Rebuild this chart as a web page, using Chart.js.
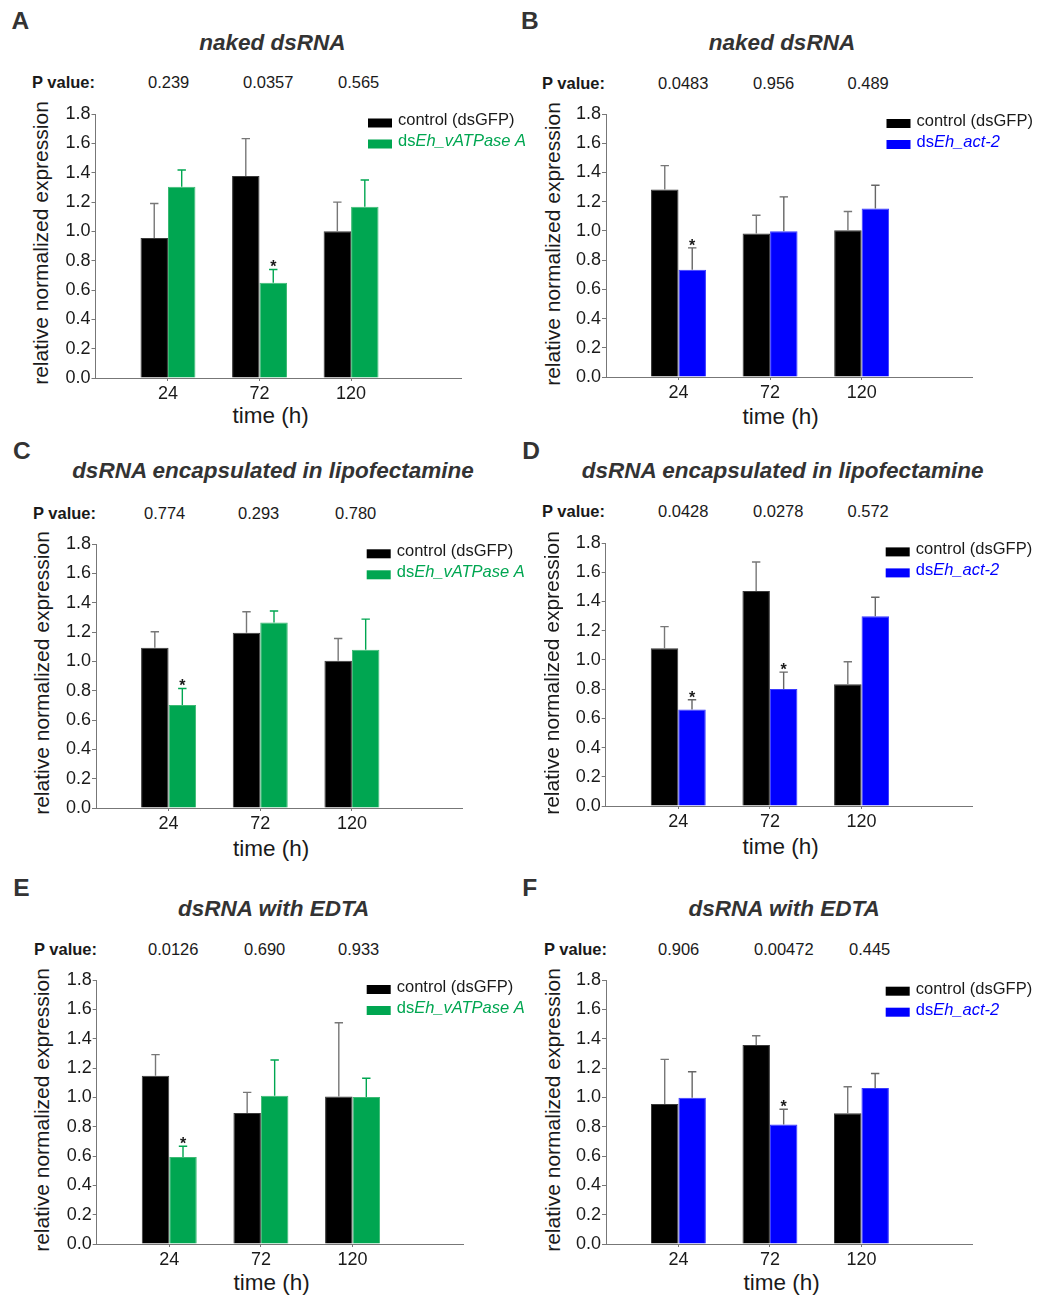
<!DOCTYPE html>
<html>
<head>
<meta charset="utf-8">
<title>Relative normalized expression after dsRNA delivery</title>
<script src="https://cdn.jsdelivr.net/npm/chart.js@4.4.1/dist/chart.umd.min.js"></script>
<style>
  html, body { margin: 0; padding: 0; background: #fff; }
  body { position: relative; width: 1038px; height: 1297px; overflow: hidden;
         font-family: "Liberation Sans", Arial, sans-serif; }
  canvas { position: absolute; }
  .lbl { position: absolute; white-space: nowrap; line-height: 1; }
</style>
</head>
<body>
<script>
// ---- shared axis values ----
const timePoints = [24, 72, 120];
const yTickValues = [0, 0.2, 0.4, 0.6, 0.8, 1.0, 1.2, 1.4, 1.6, 1.8];
const controlName = 'control (dsGFP)';
const geneVATPase = 'Eh_vATPase A';
const geneAct2 = 'Eh_act-2';

// ---- A: naked dsRNA, vATPase A ----
const aControl    = [0.954, 1.377, 1.001];
const aControlErr = [0.236, 0.255, 0.198];
const aTreated    = [1.304, 0.649, 1.167];
const aTreatedErr = [0.114, 0.091, 0.183];
const aPValues    = ['0.239', '0.0357', '0.565'];
const aStars      = [false, true, false];

// ---- B: naked dsRNA, act-2 ----
const bControl    = [1.283, 0.982, 1.005];
const bControlErr = [0.164, 0.125, 0.128];
const bTreated    = [0.734, 0.998, 1.153];
const bTreatedErr = [0.150, 0.235, 0.159];
const bPValues    = ['0.0483', '0.956', '0.489'];
const bStars      = [true, false, false];

// ---- C: lipofectamine, vATPase A ----
const cControl    = [1.092, 1.195, 1.004];
const cControlErr = [0.110, 0.143, 0.152];
const cTreated    = [0.703, 1.265, 1.079];
const cTreatedErr = [0.112, 0.078, 0.209];
const cPValues    = ['0.774', '0.293', '0.780'];
const cStars      = [true, false, false];

// ---- D: lipofectamine, act-2 ----
const dControl    = [1.080, 1.472, 0.834];
const dControlErr = [0.148, 0.198, 0.153];
const dTreated    = [0.661, 0.800, 1.299];
const dTreatedErr = [0.066, 0.116, 0.130];
const dPValues    = ['0.0428', '0.0278', '0.572'];
const dStars      = [true, true, false];

// ---- E: EDTA, vATPase A ----
const eControl    = [1.148, 0.893, 1.005];
const eControlErr = [0.143, 0.141, 0.504];
const eTreated    = [0.593, 1.011, 1.002];
const eTreatedErr = [0.073, 0.244, 0.128];
const ePValues    = ['0.0126', '0.690', '0.933'];
const eStars      = [true, false, false];

// ---- F: EDTA, act-2 ----
const fControl    = [0.954, 1.356, 0.892];
const fControlErr = [0.305, 0.064, 0.180];
const fTreated    = [0.997, 0.815, 1.063];
const fTreatedErr = [0.177, 0.104, 0.100];
const fPValues    = ['0.906', '0.00472', '0.445'];
const fStars      = [false, true, false];

// ---- styling ----
const GREEN = '#00a651';
const BLUE = '#0000ff';
const FONT = '"Liberation Sans", Arial, sans-serif';
const INK = '#1a1a1a';
const HEAD = '#333333';
const AXIS = '#777777';

const panels = [
  { id: 'A', title: 'naked dsRNA', control: aControl, controlErr: aControlErr, treated: aTreated, treatedErr: aTreatedErr, p: aPValues, stars: aStars, gene: geneVATPase, color: GREEN, border: '#3dba74', errColor: GREEN },
  { id: 'B', title: 'naked dsRNA', control: bControl, controlErr: bControlErr, treated: bTreated, treatedErr: bTreatedErr, p: bPValues, stars: bStars, gene: geneAct2, color: BLUE, border: '#3a3aff', errColor: '#666' },
  { id: 'C', title: 'dsRNA encapsulated in lipofectamine', control: cControl, controlErr: cControlErr, treated: cTreated, treatedErr: cTreatedErr, p: cPValues, stars: cStars, gene: geneVATPase, color: GREEN, border: '#3dba74', errColor: GREEN },
  { id: 'D', title: 'dsRNA encapsulated in lipofectamine', control: dControl, controlErr: dControlErr, treated: dTreated, treatedErr: dTreatedErr, p: dPValues, stars: dStars, gene: geneAct2, color: BLUE, border: '#3a3aff', errColor: '#666' },
  { id: 'E', title: 'dsRNA with EDTA', control: eControl, controlErr: eControlErr, treated: eTreated, treatedErr: eTreatedErr, p: ePValues, stars: eStars, gene: geneVATPase, color: GREEN, border: '#3dba74', errColor: GREEN },
  { id: 'F', title: 'dsRNA with EDTA', control: fControl, controlErr: fControlErr, treated: fTreated, treatedErr: fTreatedErr, p: fPValues, stars: fStars, gene: geneAct2, color: BLUE, border: '#3a3aff', errColor: '#666' }
];

// page placement of each panel (area = plot left, top, right, bottom)
const placement = {
  A: { canvasX: 0,   canvasW: 540, area: [95.5, 114, 461.7, 377.7],   letter: [11.5, 21.3],  title: [272.3, 43.3],  pLabel: [32, 82],    pX: [148, 243, 338],   yTitle: [40, 243],     xTitle: [270.7, 416.4], keyDx: 272.5, keyDy: 4.5 },
  B: { canvasX: 520, canvasW: 518, area: [606, 114.3, 972.3, 377.7],  letter: [521, 20.5],   title: [782, 43],      pLabel: [542, 82.7], pX: [658, 753, 847.5], yTitle: [551.5, 244],  xTitle: [780.7, 417],   keyDx: 280.5, keyDy: 5 },
  C: { canvasX: 0,   canvasW: 540, area: [96, 544, 462.7, 807.7],     letter: [13, 450.8],   title: [273, 471.3],   pLabel: [33, 512.5], pX: [144, 238, 335],   yTitle: [40.7, 672.5], xTitle: [271.2, 849],   keyDx: 270.7, keyDy: 5.3 },
  D: { canvasX: 520, canvasW: 518, area: [605.7, 543.3, 972.3, 806.7], letter: [522.3, 450.8], title: [782.7, 471.3], pLabel: [542, 511],  pX: [658, 753, 847.5], yTitle: [551.2, 672.5], xTitle: [780.7, 847],  keyDx: 280, keyDy: 4.4 },
  E: { canvasX: 0,   canvasW: 540, area: [96.7, 980, 463.3, 1244],    letter: [13.3, 887.5], title: [273.7, 909],   pLabel: [34, 949],   pX: [148, 244, 338],   yTitle: [40.7, 1110],  xTitle: [271.7, 1283],  keyDx: 270, keyDy: 5 },
  F: { canvasX: 520, canvasW: 518, area: [606, 980, 972, 1243.7],     letter: [522.3, 888],  title: [784.2, 909],   pLabel: [544, 949],  pX: [658, 754, 849],   yTitle: [551.9, 1110], xTitle: [781.7, 1283],  keyDx: 279.7, keyDy: 6.7 }
};

const Y_SCALE_W = 40;
const X_SCALE_H = 30;
const TOP_PAD = 20;
const BOTTOM_SPACE = 32;

function addText(text, x, y, css, transform) {
  const el = document.createElement('div');
  el.className = 'lbl';
  el.textContent = text;
  el.style.left = x + 'px';
  el.style.top = y + 'px';
  el.style.transform = transform;
  Object.assign(el.style, css);
  document.body.appendChild(el);
  return el;
}

// upward error bars with caps, plus significance asterisks
const errorBarPlugin = {
  id: 'errorBars',
  afterDatasetsDraw(chart) {
    const ctx = chart.ctx;
    const yScale = chart.scales.y;
    chart.data.datasets.forEach((ds, di) => {
      const meta = chart.getDatasetMeta(di);
      meta.data.forEach((bar, i) => {
        const top = yScale.getPixelForValue(ds.data[i].y + ds.errors[i]);
        ctx.save();
        ctx.strokeStyle = ds.errorColor;
        ctx.lineWidth = 1.4;
        ctx.beginPath();
        ctx.moveTo(bar.x, bar.y);
        ctx.lineTo(bar.x, top);
        ctx.moveTo(bar.x - 4.2, top);
        ctx.lineTo(bar.x + 4.2, top);
        ctx.stroke();
        if (ds.stars && ds.stars[i]) {
          ctx.fillStyle = INK;
          ctx.font = 'bold 16px ' + FONT;
          ctx.textAlign = 'center';
          ctx.textBaseline = 'alphabetic';
          ctx.fillText('*', bar.x, top + 3);
        }
        ctx.restore();
      });
    });
  }
};

// series key in the upper right of the plot
const seriesKeyPlugin = {
  id: 'seriesKey',
  afterDraw(chart, args, opts) {
    const ctx = chart.ctx;
    const { left, top } = chart.chartArea;
    chart.data.datasets.forEach((ds, i) => {
      const bx = left + opts.dx;
      const by = top + opts.dy + i * 21;
      ctx.save();
      ctx.fillStyle = ds.backgroundColor;
      ctx.fillRect(bx, by, 24, 9);
      let tx = bx + 30;
      const ty = by + 2.4;
      ctx.textBaseline = 'middle';
      ctx.textAlign = 'left';
      ctx.fillStyle = ds.keyColor;
      ds.keyParts.forEach(part => {
        ctx.font = (part.italic ? 'italic ' : '') + '16.5px ' + FONT;
        ctx.fillText(part.text, tx, ty);
        tx += ctx.measureText(part.text).width;
      });
      ctx.restore();
    });
  }
};

panels.forEach(pn => {
  const pl = placement[pn.id];
  const [aL, aT, aR, aB] = pl.area;
  const cx = pl.canvasX;
  const cy = aT - TOP_PAD;
  const cw = pl.canvasW;
  const ch = (aB - aT) + TOP_PAD + BOTTOM_SPACE;

  // headings and annotations
  addText(pn.id, pl.letter[0], pl.letter[1], { fontSize: '24.5px', fontWeight: 'bold', color: HEAD }, 'translateY(-50%)');
  addText(pn.title, pl.title[0], pl.title[1], { fontSize: '22.5px', fontWeight: 'bold', fontStyle: 'italic', color: HEAD }, 'translate(-50%,-50%)');
  addText('P value:', pl.pLabel[0], pl.pLabel[1], { fontSize: '16.5px', fontWeight: 'bold', color: INK }, 'translateY(-50%)');
  pn.p.forEach((pv, i) => {
    addText(pv, pl.pX[i], pl.pLabel[1], { fontSize: '16.5px', color: INK }, 'translateY(-50%)');
  });
  addText('relative normalized expression', pl.yTitle[0], pl.yTitle[1], { fontSize: '21px', color: INK }, 'translate(-50%,-50%) rotate(-90deg)');
  addText('time (h)', pl.xTitle[0], pl.xTitle[1], { fontSize: '22.5px', color: INK }, 'translate(-50%,-50%)');

  const canvas = document.createElement('canvas');
  canvas.width = cw;
  canvas.height = Math.round(ch);
  canvas.style.left = cx + 'px';
  canvas.style.top = cy + 'px';
  canvas.style.width = cw + 'px';
  canvas.style.height = Math.round(ch) + 'px';
  document.body.appendChild(canvas);

  new Chart(canvas, {
    type: 'bar',
    data: {
      datasets: [
        {
          label: controlName,
          data: timePoints.map((t, i) => ({ x: t, y: pn.control[i] })),
          errors: pn.controlErr,
          stars: null,
          backgroundColor: '#000000',
          borderColor: '#3a3a3a',
          borderWidth: 1,
          errorColor: AXIS,
          keyColor: INK,
          keyParts: [{ text: controlName, italic: false }]
        },
        {
          label: 'ds' + pn.gene,
          data: timePoints.map((t, i) => ({ x: t, y: pn.treated[i] })),
          errors: pn.treatedErr,
          stars: pn.stars,
          backgroundColor: pn.color,
          borderColor: pn.border,
          borderWidth: 1,
          errorColor: pn.errColor,
          keyColor: pn.color,
          keyParts: [{ text: 'ds', italic: false }, { text: pn.gene, italic: true }]
        }
      ]
    },
    options: {
      responsive: false,
      animation: false,
      devicePixelRatio: 1,
      categoryPercentage: 0.6,
      barPercentage: 1.0,
      layout: {
        padding: {
          left: aL - cx - Y_SCALE_W,
          top: TOP_PAD,
          right: cx + cw - aR,
          bottom: ch - (aB - aT) - TOP_PAD - X_SCALE_H
        }
      },
      plugins: {
        legend: { display: false },
        tooltip: { enabled: false },
        title: { display: false },
        seriesKey: { dx: pl.keyDx, dy: pl.keyDy }
      },
      scales: {
        x: {
          type: 'linear',
          min: -14,
          max: 178,
          offset: false,
          afterBuildTicks: s => { s.ticks = timePoints.map(v => ({ value: v })); },
          afterFit: s => { s.height = X_SCALE_H; },
          ticks: {
            font: { family: FONT, size: 18 },
            color: INK,
            padding: 2,
            maxRotation: 0,
            autoSkip: false,
            callback: v => String(v)
          },
          grid: { display: true, offset: false, drawOnChartArea: false, drawTicks: true, tickLength: 3, color: AXIS, lineWidth: 1 },
          border: { display: true, color: AXIS, width: 1 }
        },
        y: {
          min: 0,
          max: 1.8,
          afterBuildTicks: s => { s.ticks = yTickValues.map(v => ({ value: v })); },
          afterFit: s => { s.width = Y_SCALE_W; },
          ticks: {
            font: { family: FONT, size: 18 },
            color: INK,
            padding: 1,
            autoSkip: false,
            callback: v => Number(v).toFixed(1)
          },
          grid: { display: true, drawOnChartArea: false, drawTicks: true, tickLength: 4, color: AXIS, lineWidth: 1 },
          border: { display: true, color: AXIS, width: 1 }
        }
      }
    },
    plugins: [errorBarPlugin, seriesKeyPlugin]
  });
});
</script>
</body>
</html>
